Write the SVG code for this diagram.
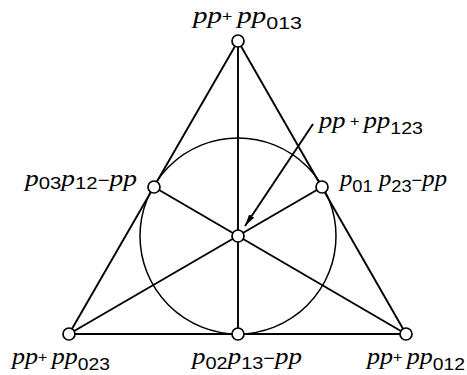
<svg xmlns="http://www.w3.org/2000/svg" width="467" height="375" viewBox="0 0 467 375">
<style>
.ln{stroke:#000;stroke-width:1.9;fill:none}
.cir{stroke:#000;stroke-width:1.5;fill:none}
.nd{fill:#fff;stroke:#000;stroke-width:1.7}
text{fill:#000}
.i{font-family:"Liberation Serif",serif;font-style:italic;font-size:23px}
.d{font-family:"Liberation Sans",sans-serif;font-size:17px}
.o{font-family:"Liberation Sans",sans-serif;font-size:14px}
</style>
<defs>
<marker id="ah" viewBox="0 0 12 6" refX="12" refY="3" markerWidth="12" markerHeight="6" markerUnits="userSpaceOnUse" orient="auto">
<path d="M0,0 L12,3 L0,6 Z" fill="#000"/>
</marker>
</defs>
<rect width="467" height="375" fill="#fff"/>
<g id="connectors">
<circle class="cir" cx="238" cy="236" r="98"/>
<line class="ln" x1="238" y1="41" x2="69" y2="334"/>
<line class="ln" x1="238" y1="41" x2="406" y2="334"/>
<line class="ln" x1="69" y1="334" x2="406" y2="334"/>
<line class="ln" x1="238" y1="41" x2="238" y2="334"/>
<line class="ln" x1="69" y1="334" x2="322" y2="187"/>
<line class="ln" x1="406" y1="334" x2="154" y2="187"/>
<line class="ln" x1="313" y1="124" x2="245" y2="226" stroke-width="1.5" marker-end="url(#ah)"/>
</g>
<g id="n-top"><circle class="nd" cx="238" cy="41" r="6"/>
<text x="193" y="23" textLength="109" lengthAdjust="spacingAndGlyphs"><tspan class="i">pp</tspan><tspan class="o" dy="-2">+ </tspan><tspan class="i" dy="2">pp</tspan><tspan class="d" dy="6">013</tspan></text></g>
<g id="n-center"><circle class="nd" cx="238" cy="236" r="6"/>
<text x="319" y="128" textLength="104" lengthAdjust="spacingAndGlyphs"><tspan class="i">pp</tspan><tspan class="o" dy="-2"> + </tspan><tspan class="i" dy="2">pp</tspan><tspan class="d" dy="6">123</tspan></text></g>
<g id="n-left"><circle class="nd" cx="154" cy="187" r="6"/>
<text x="25" y="186" textLength="112" lengthAdjust="spacingAndGlyphs"><tspan class="i">p</tspan><tspan class="d" dy="3">03</tspan><tspan class="i" dy="-3">p</tspan><tspan class="d" dy="3">12</tspan><tspan class="d" dy="-3">−</tspan><tspan class="i">pp</tspan></text></g>
<g id="n-right"><circle class="nd" cx="322" cy="187" r="6"/>
<text x="340" y="186" textLength="107" lengthAdjust="spacingAndGlyphs"><tspan class="i">p</tspan><tspan class="d" dy="6">01</tspan><tspan class="i" dy="-6"> p</tspan><tspan class="d" dy="6">23</tspan><tspan class="d" dy="-6">−</tspan><tspan class="i">pp</tspan></text></g>
<g id="n-bl"><circle class="nd" cx="69" cy="334" r="6"/>
<text x="12" y="364" textLength="98" lengthAdjust="spacingAndGlyphs"><tspan class="i">pp</tspan><tspan class="o" dy="-2">+ </tspan><tspan class="i" dy="2">pp</tspan><tspan class="d" dy="6">023</tspan></text></g>
<g id="n-bm"><circle class="nd" cx="238" cy="334" r="6"/>
<text x="192" y="364" textLength="110" lengthAdjust="spacingAndGlyphs"><tspan class="i">p</tspan><tspan class="d" dy="5">02</tspan><tspan class="i" dy="-5">p</tspan><tspan class="d" dy="5">13</tspan><tspan class="d" dy="-5">−</tspan><tspan class="i">pp</tspan></text></g>
<g id="n-br"><circle class="nd" cx="406" cy="334" r="6"/>
<text x="367" y="364" textLength="98" lengthAdjust="spacingAndGlyphs"><tspan class="i">pp</tspan><tspan class="o" dy="-2">+ </tspan><tspan class="i" dy="2">pp</tspan><tspan class="d" dy="6">012</tspan></text></g>
</svg>
